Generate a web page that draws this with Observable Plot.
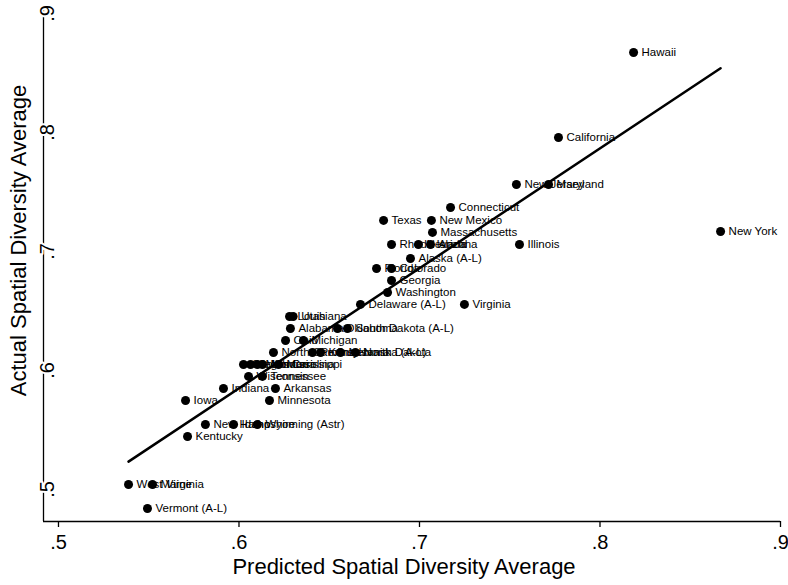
<!DOCTYPE html>
<html><head><meta charset="utf-8">
<script src="https://cdn.jsdelivr.net/npm/d3@7"></script>
<script src="https://cdn.jsdelivr.net/npm/@observablehq/plot@0.6"></script>
<style>body{margin:0;background:#fff}</style>
</head><body><div id="chart"></div>
<script>
const states = ["Hawaii","California","New Jersey","Maryland","New York","Connecticut","Texas","New Mexico","Massachusetts","Illinois","Rhode Island","Nevada","Arizona","Alaska (A-L)","Florida","Colorado","Georgia","Washington","Delaware (A-L)","Virginia","Louisiana","Utah","Alabama","Oklahoma","South Dakota (A-L)","Ohio","Michigan","North Carolina","Pennsylvania","Kansas","Nebraska (A-L)","North Dakota","Oregon","South Carolina","Missouri","Montana","Mississippi","Wisconsin","Tennessee","Indiana","Arkansas","Minnesota","Iowa","New Hampshire","Idaho","Wyoming (Astr)","Kentucky","West Virginia","Maine","Vermont (A-L)"];
const predicted = [0.8186,0.7770,0.7537,0.7715,0.8668,0.7172,0.6801,0.7066,0.7072,0.7554,0.6845,0.6994,0.7061,0.6950,0.6762,0.6845,0.6845,0.6823,0.6673,0.7249,0.6280,0.6300,0.6285,0.6546,0.6601,0.6258,0.6357,0.6191,0.6407,0.6452,0.6562,0.6645,0.6025,0.6064,0.6102,0.6130,0.6219,0.6053,0.6130,0.5914,0.6202,0.6169,0.5704,0.5814,0.5970,0.6102,0.5715,0.5388,0.5521,0.5493];
const actual = [0.8672,0.7958,0.7563,0.7563,0.7168,0.7370,0.7261,0.7261,0.7160,0.7059,0.7059,0.7059,0.7059,0.6941,0.6857,0.6857,0.6756,0.6655,0.6555,0.6555,0.6454,0.6454,0.6353,0.6353,0.6353,0.6252,0.6252,0.6151,0.6151,0.6151,0.6151,0.6151,0.6050,0.6050,0.6050,0.6050,0.6050,0.5950,0.5950,0.5849,0.5849,0.5748,0.5748,0.5546,0.5546,0.5546,0.5445,0.5042,0.5042,0.4840];
const xTicks = [0.5,0.6,0.7,0.8,0.9];
const yTicks = [0.5,0.6,0.7,0.8,0.9];
const xTitle = "Predicted Spatial Diversity Average";
const yTitle = "Actual Spatial Diversity Average";

const data = states.map((s,i)=>({state:s, x:predicted[i], y:actual[i]}));
const fmt = d => String(d).replace(/^0/, "");
const xDom = [0.4917, 0.9], yDom = [0.4731, 0.9067];
const font = "'Liberation Sans', Arial, sans-serif";

const chart = Plot.plot({
  width:788, height:585, marginLeft:43, marginRight:8, marginTop:5, marginBottom:64,
  style:{fontFamily:font, background:"#fff", color:"#000"},
  x:{domain:xDom, axis:null},
  y:{domain:yDom, axis:null},
  marks:[
    Plot.ruleX([xDom[0]], {stroke:"#000", strokeWidth:1.3}),
    Plot.ruleY([yDom[0]], {stroke:"#000", strokeWidth:1.3}),
    Plot.axisX({ticks:xTicks, tickSize:6, tickFormat:()=>"", label:null, stroke:"#000", strokeWidth:1.3}),
    Plot.text(xTicks, {x:d=>d, frameAnchor:"bottom", text:fmt, dy:27, fontSize:20, fill:"#000"}),
    Plot.text(yTicks, {y:d=>d, frameAnchor:"left", text:fmt, rotate:-90, textAnchor:"middle", dx:4, fontSize:20, fill:"#000", stroke:"#fff", strokeWidth:4, paintOrder:"stroke"}),
    Plot.text([xTitle], {frameAnchor:"bottom", dx:-8, dy:52, fontSize:22, fill:"#000"}),
    Plot.text([yTitle], {frameAnchor:"left", rotate:-90, textAnchor:"middle", dx:-25, dy:-23, fontSize:22, fill:"#000"}),
    Plot.linearRegressionY(data, {x:"x", y:"y", stroke:"#000", strokeWidth:2.5, ci:0}),
    Plot.dot(data, {x:"x", y:"y", r:4.5, fill:"#000"}),
    Plot.text(data, {x:"x", y:"y", text:"state", textAnchor:"start", dx:8, fontSize:11.5, fill:"#000"})
  ]
});
document.getElementById("chart").append(chart);
</script>
</body></html>
